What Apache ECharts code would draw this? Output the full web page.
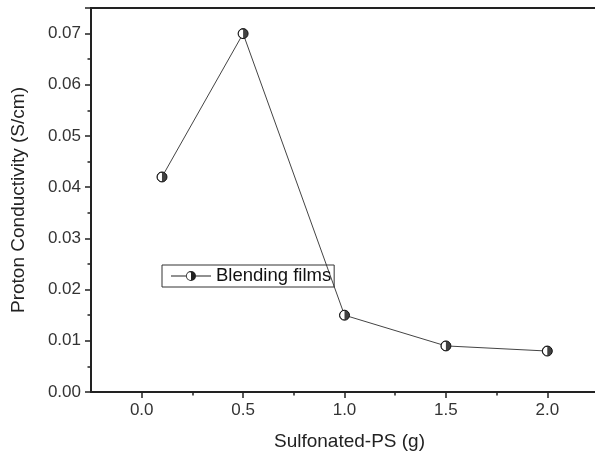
<!DOCTYPE html>
<html>
<head>
<meta charset="utf-8">
<script src="https://cdn.jsdelivr.net/npm/echarts@6/dist/echarts.min.js"></script>
<style>
html,body{margin:0;padding:0;background:#fff;}
#chart{width:595px;height:454px;}
</style>
</head>
<body>
<div id="chart"></div>
<script>
// Data
var seriesName = 'Blending films';
var xValues = [0.1, 0.5, 1.0, 1.5, 2.0];
var yValues = [0.042, 0.070, 0.015, 0.009, 0.008];
var xMajorTicks = [0, 0.5, 1.0, 1.5, 2.0];
var xMinorTicks = [0.25, 0.75, 1.25, 1.75];
var xTitle = 'Sulfonated-PS (g)';
var yTitle = 'Proton Conductivity (S/cm)';

var points = xValues.map(function (x, i) { return [x, yValues[i]]; });
var halfPath = 'path://M10 0 A10 10 0 0 1 10 20 Z M10 0 A10 10 0 0 0 10 20 L10 18.7 A8.7 8.7 0 0 1 10 1.3 Z';
var legendIcon = 'path://M0 4.5 L15.2 4.5 L15.2 5.5 L0 5.5 Z M24.8 4.5 L40 4.5 L40 5.5 L24.8 5.5 Z ' +
  'M20 0 A5 5 0 0 1 20 10 Z M20 0 A5 5 0 0 0 20 10 L20 9.1 A4.1 4.1 0 0 1 20 0.9 Z';
var FONT = 'Liberation Sans, Arial, Helvetica, sans-serif';
var AX = '#222';

var chart = echarts.init(document.getElementById('chart'), null, {renderer: 'canvas'});
chart.setOption({
  animation: false,
  backgroundColor: '#fff',
  textStyle: {fontFamily: FONT},
  grid: {left: 91, top: 8, bottom: 62, right: -3, show: true, borderColor: AX, borderWidth: 2,
    containLabel: false, outerBoundsMode: 'none'},
  legend: {
    data: [{name: seriesName, icon: legendIcon}],
    left: 162, top: 265,
    padding: [1.5, 3, 1.5, 9],
    itemWidth: 40, itemHeight: 10,
    symbolKeepAspect: true,
    itemStyle: {color: '#222', borderWidth: 0},
    borderColor: '#333', borderWidth: 1, borderRadius: 0,
    textStyle: {fontSize: 18.5, color: '#111', fontFamily: FONT, lineHeight: 16}
  },
  xAxis: [{
    type: 'value', min: -0.25, max: 2.25,
    splitLine: {show: false},
    axisLine: {onZero: false, lineStyle: {color: AX, width: 2}},
    axisTick: {show: true, inside: false, length: 6, lineStyle: {color: AX, width: 1.5}, customValues: xMajorTicks},
    axisLabel: {customValues: xMajorTicks, fontSize: 17, color: '#333', margin: 10, fontFamily: FONT,
      formatter: function (v) { return v.toFixed(1); }},
    name: xTitle, nameLocation: 'middle', nameGap: 40,
    nameTextStyle: {fontSize: 19, color: '#222', fontFamily: FONT, padding: [0, 0, 0, 10]}
  }, {
    type: 'value', min: -0.25, max: 2.25, position: 'bottom',
    splitLine: {show: false},
    axisLine: {show: false},
    axisTick: {show: true, inside: false, length: 3.5, lineStyle: {color: AX, width: 1.5}, customValues: xMinorTicks},
    axisLabel: {show: false}
  }],
  yAxis: {
    type: 'value', min: 0, max: 0.075, interval: 0.01,
    splitLine: {show: false},
    axisLine: {onZero: false, lineStyle: {color: AX, width: 2}},
    axisTick: {show: true, inside: false, length: 6, lineStyle: {color: AX, width: 1.5}},
    minorTick: {show: true, splitNumber: 2, length: 3.5, lineStyle: {color: AX, width: 1.5}},
    axisLabel: {fontSize: 17, color: '#333', margin: 10, fontFamily: FONT, showMaxLabel: false,
      formatter: function (v) { return v > 0.0705 ? '' : v.toFixed(2); }},
    name: yTitle, nameLocation: 'middle', nameGap: 63, nameRotate: 90,
    nameTextStyle: {fontSize: 19, color: '#222', fontFamily: FONT}
  },
  series: [{
    name: seriesName, type: 'line', data: points,
    symbol: 'circle', symbolSize: 10,
    itemStyle: {color: '#fff', borderColor: '#111', borderWidth: 1},
    lineStyle: {color: '#444', width: 1},
    z: 2
  }, {
    name: 'half', type: 'scatter', data: points,
    symbol: halfPath, symbolSize: 10,
    itemStyle: {color: '#111'},
    z: 3
  }]
});
</script>
</body>
</html>
